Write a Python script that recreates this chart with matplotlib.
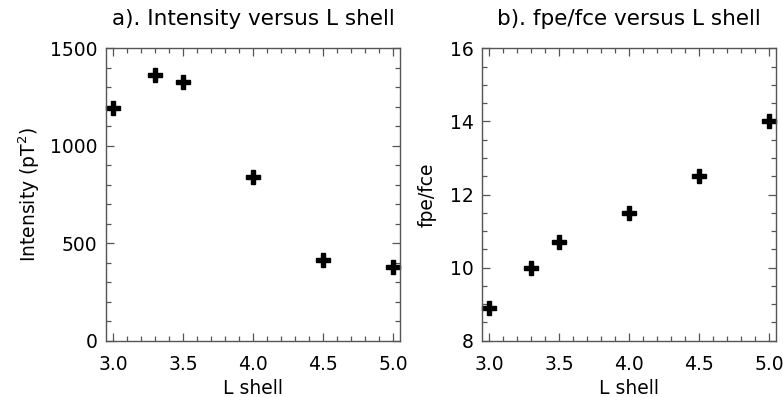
import matplotlib
matplotlib.use('Agg')
import matplotlib.pyplot as plt
from matplotlib.ticker import MultipleLocator

# values
lshell = [3.0, 3.3, 3.5, 4.0, 4.5, 5.0]
intensity = [1195, 1365, 1325, 840, 415, 378]
fpe_fce = [8.9, 10.0, 10.7, 11.5, 12.5, 14.0]

fig = plt.figure(figsize=(7.83, 3.97), dpi=100)
ax1 = fig.add_axes([0.1354, 0.1418, 0.3755, 0.7365])
ax2 = fig.add_axes([0.616, 0.1418, 0.3751, 0.7365])

def style(ax, ymaj, ymin):
    ax.set_xlim(2.95, 5.05)
    ax.xaxis.set_major_locator(MultipleLocator(0.5))
    ax.xaxis.set_minor_locator(MultipleLocator(0.1))
    ax.yaxis.set_major_locator(MultipleLocator(ymaj))
    ax.yaxis.set_minor_locator(MultipleLocator(ymin))
    ax.xaxis.set_major_formatter(plt.FormatStrFormatter('%.1f'))
    ax.tick_params(which='both', direction='in', top=True, right=True,
                   color='#555555', width=0.9, labelsize=13.5)
    ax.tick_params(axis='x', pad=10)
    ax.tick_params(axis='y', pad=6)
    ax.tick_params(which='major', length=6)
    ax.tick_params(which='minor', length=3.5)
    for sp in ax.spines.values():
        sp.set_color('#555555')
        sp.set_linewidth(1.0)
    ax.set_xlabel('L shell', fontsize=13.5, labelpad=4)

ax1.plot(lshell, intensity, 'P', color='black', markersize=9.5, clip_on=False)
ax1.set_ylim(0, 1500)
style(ax1, 500, 100)
ax1.set_ylabel('Intensity (pT$^2$)', fontsize=13.5, labelpad=6)
ax1.set_title('a). Intensity versus L shell', fontsize=15.5, pad=17)

ax2.plot(lshell, fpe_fce, 'P', color='black', markersize=9.5, clip_on=False)
ax2.set_ylim(8, 16)
style(ax2, 2, 0.5)
ax2.set_ylabel('fpe/fce', fontsize=13.5, labelpad=10)
ax2.set_title('b). fpe/fce versus L shell', fontsize=15.5, pad=17)

plt.savefig('out.png', dpi=100)
